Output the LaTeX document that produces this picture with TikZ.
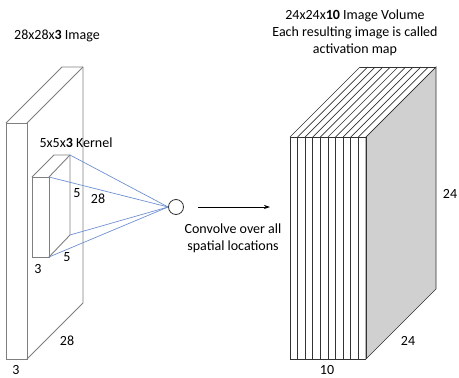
\documentclass[tikz,border=0pt]{standalone}
\usepackage{fontspec}
\setmainfont{Carlito}
\usetikzlibrary{arrows.meta}
\definecolor{boxgray}{HTML}{7F7F7F}
\definecolor{kblue}{HTML}{6F90D0}
\definecolor{facegray}{HTML}{D0D0D0}
\tikzset{
  lbl/.style={font=\fontsize{14}{17}\selectfont, inner sep=0pt, align=center},
  boxline/.style={draw=boxgray, line width=0.9pt, line join=miter},
  stackline/.style={draw=black!80, line width=0.7pt},
  kline/.style={draw=kblue, line width=0.7pt}
}
\begin{document}
\begin{tikzpicture}[x=1pt,y=-1pt]
\useasboundingbox (0,0) rectangle (459,378);
% big image box
\coordinate (b1) at (6,123);
\coordinate (b2) at (27,123);
\coordinate (b3) at (27,359);
\coordinate (b4) at (6,359);
\coordinate (b5) at (62,67);
\coordinate (b6) at (83,67);
\coordinate (b7) at (83,303);
\draw[boxline] (b1) -- (b2) -- (b3) -- (b4) -- cycle;
\draw[boxline] (b1) -- (b5) -- (b6) -- (b7) -- (b3);
\draw[boxline] (b2) -- (b6);
% kernel
\coordinate (k1) at (32,177);
\coordinate (k2) at (49,177);
\coordinate (k3) at (49,257);
\coordinate (k4) at (32,257);
\coordinate (k5) at (54,155);
\coordinate (k6) at (70,155);
\coordinate (k7) at (70,235);
\draw[boxline, fill=white] (k1) -- (k2) -- (k3) -- (k4) -- cycle;
\draw[boxline] (k1) -- (k5) -- (k6) -- (k7) -- (k3);
\draw[boxline] (k2) -- (k6);
% neuron
\node[draw=black!80, circle, minimum size=15pt, inner sep=0pt, line width=0.8pt] (c) at (176,207) {};
\draw[kline] (c.west) -- (k6);
\draw[kline] (c.west) -- (k2);
\draw[kline] (c.west) -- (k7);
\draw[kline] (c.west) -- (k3);
% arrow
\coordinate (a1) at (198,207);
\coordinate (a2) at (270,207);
\draw[black, line width=0.7pt, -{Stealth[length=6pt,width=4pt]}] (a1) -- (a2);
% labels left
\node[lbl] (t1) at (57,36) {28x28x\textbf{3} Image};
\node[lbl] (t2) at (76,143) {5x5x\textbf{3} Kernel};
\node[lbl] (l1) at (77,193) {5};
\node[lbl] (l2) at (98,199) {28};
\node[lbl] (l3) at (67,257) {5};
\node[lbl] (l4) at (38,269) {3};
\node[lbl] (l5) at (67,341) {28};
\node[lbl] (l6) at (16,370) {3};
\node[lbl] (conv) at (233,238) {Convolve over all\\spatial locations};
% right stack
\coordinate (r1) at (366,137);
\coordinate (r2) at (436,67);
\coordinate (r3) at (436,289);
\coordinate (r4) at (366,359);
\draw[stackline, fill=facegray] (r1) -- (r2) -- (r3) -- (r4) -- cycle;
\draw[stackline] (360,67) -- (r2);
\foreach \i in {0,...,10} {
  \pgfmathsetmacro{\xx}{290+\i*7.6}
  \draw[stackline] (\xx,137) -- (\xx,359);
  \draw[stackline] (\xx,137) -- (\xx+70,67);
}
\draw[stackline] (290,137) -- (r1);
\draw[stackline] (290,359) -- (r4);
\node[lbl] (t3) at (355,33) {24x24x\textbf{10} Image Volume\\Each resulting image is called\\activation map};
\node[lbl] (r5) at (450,194) {24};
\node[lbl] (r6) at (408,341) {24};
\node[lbl] (r7) at (327,370) {10};
\end{tikzpicture}
\end{document}
